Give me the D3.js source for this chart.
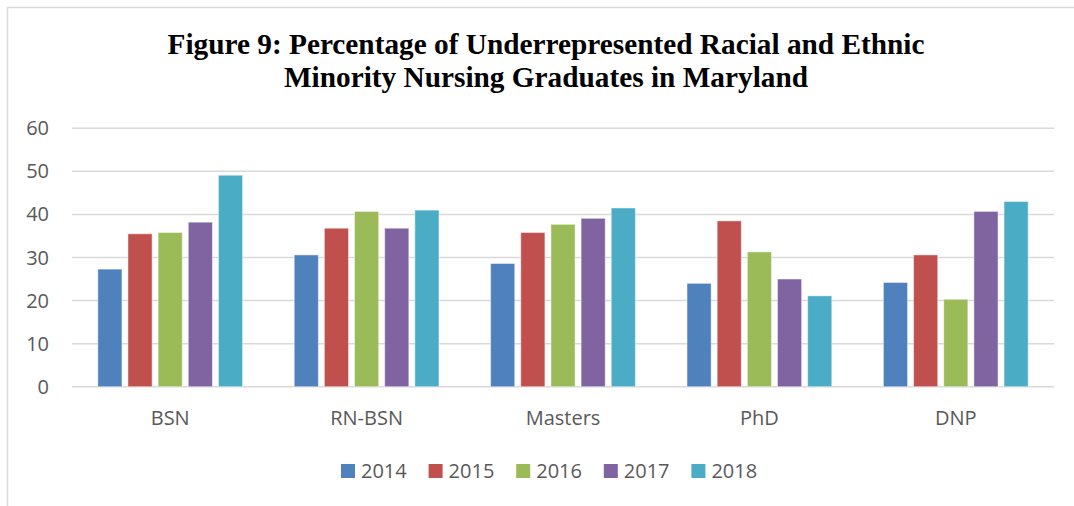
<!DOCTYPE html>
<html>
<head>
<meta charset="utf-8">
<script src="https://cdn.jsdelivr.net/npm/d3@7"></script>
<style>
  body { margin: 0; background: #fff; }
  svg { display: block; }
</style>
</head>
<body>
<svg id="chart" width="1074" height="506"></svg>
<script>
// data
const programs = ['BSN', 'RN-BSN', 'Masters', 'PhD', 'DNP'];
const years = ['2014', '2015', '2016', '2017', '2018'];
const v2014 = [27.3, 30.6, 28.6, 24.0, 24.2];
const v2015 = [35.5, 36.8, 35.8, 38.5, 30.6];
const v2016 = [35.8, 40.7, 37.7, 31.3, 20.3];
const v2017 = [38.2, 36.8, 39.1, 25.0, 40.7];
const v2018 = [49.1, 41.0, 41.5, 21.1, 43.0];
const yTicks = [0, 10, 20, 30, 40, 50, 60];
const colors = ['#4f81bd', '#c0504d', '#9bbb59', '#8064a2', '#4bacc6'];

const series = [v2014, v2015, v2016, v2017, v2018];

const svg = d3.select('#chart');

/** frame (only top and left edge visible in the picture) */
svg.append('rect')
  .attr('x', 7.5).attr('y', 7.5)
  .attr('width', 1200).attr('height', 700)
  .attr('fill', 'none')
  .attr('stroke', '#d9d9d9')
  .attr('stroke-width', 1.5);

/** title */
const title = svg.append('text')
  .attr('text-anchor', 'middle')
  .style('font-family', '"Liberation Serif", "Times New Roman", serif')
  .style('font-weight', 'bold')
  .style('font-size', '29.3px')
  .attr('fill', '#000');
title.append('tspan').attr('x', 546).attr('y', 54)
  .text('Figure 9: Percentage of Underrepresented Racial and Ethnic');
title.append('tspan').attr('x', 546).attr('y', 87)
  .text('Minority Nursing Graduates in Maryland');

/** scales */
const y = d3.scaleLinear().domain([0, 60]).range([386.7, 128.3]);
const x0 = d3.scaleBand().domain(programs)
  .range([72, 1054])
  .paddingInner(0.263).paddingOuter(0.1315);
const x1 = d3.scaleBand().domain(years)
  .range([0, x0.bandwidth()])
  .paddingInner(0.2).paddingOuter(0);

/** gridlines */
svg.append('g').selectAll('line')
  .data(yTicks)
  .enter().append('line')
  .attr('x1', 72).attr('x2', 1054)
  .attr('y1', d => y(d)).attr('y2', d => y(d))
  .attr('stroke', '#d9d9d9')
  .attr('stroke-width', 1.5);

/** y labels */
svg.append('g').selectAll('text')
  .data(yTicks)
  .enter().append('text')
  .attr('x', 49)
  .attr('y', d => y(d))
  .attr('dy', '0.35em')
  .attr('text-anchor', 'end')
  .style('font-family', '"Open Sans", sans-serif')
  .style('font-size', '20px')
  .attr('fill', '#595959')
  .text(d => d);

/** bars */
const groups = svg.append('g').selectAll('g')
  .data(programs)
  .enter().append('g')
  .attr('transform', d => `translate(${x0(d)},0)`);

groups.selectAll('rect')
  .data((p, i) => years.map((yr, k) => ({ year: yr, value: series[k][i], k })))
  .enter().append('rect')
  .attr('x', d => x1(d.year))
  .attr('width', x1.bandwidth())
  .attr('y', d => y(d.value))
  .attr('height', d => y(0) - y(d.value))
  .attr('fill', d => colors[d.k])
  .attr('stroke', 'rgba(255,255,255,0.45)')
  .attr('stroke-width', 1);

/** category labels */
svg.append('g').selectAll('text')
  .data(programs)
  .enter().append('text')
  .attr('x', d => x0(d) + x0.bandwidth() / 2)
  .attr('y', 425)
  .attr('text-anchor', 'middle')
  .style('font-family', '"Open Sans", sans-serif')
  .style('font-size', '20px')
  .attr('fill', '#595959')
  .text(d => d);

/** legend */
const legend = svg.append('g').selectAll('g')
  .data(years)
  .enter().append('g')
  .attr('transform', (d, i) => `translate(${341 + i * 87.6},464)`);
legend.append('rect')
  .attr('width', 14).attr('height', 14)
  .attr('fill', (d, i) => colors[i]);
legend.append('text')
  .attr('x', 20).attr('y', 14)
  .style('font-family', '"Open Sans", sans-serif')
  .style('font-size', '20px')
  .attr('fill', '#595959')
  .text(d => d);
</script>
</body>
</html>
